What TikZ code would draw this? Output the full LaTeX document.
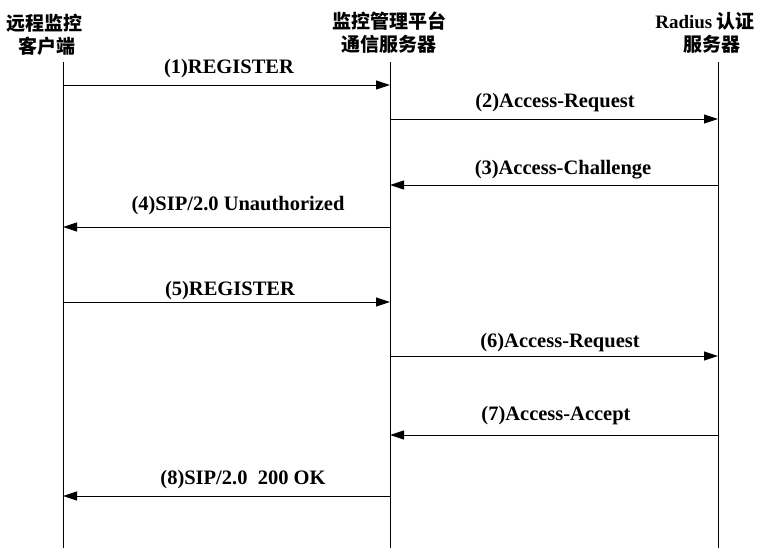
\documentclass[tikz,border=0pt]{standalone}
\usepackage{fontspec}
\setmainfont{Liberation Serif}
\newfontfamily\cjk{Noto Sans CJK SC}
\usetikzlibrary{arrows.meta}
\tikzset{
  lifeline/.style={line width=0.9pt},
  msg/.style={line width=0.8pt,-{Triangle[length=14pt,width=9pt]}},
  lbl/.style={font=\fontsize{20.5}{22}\selectfont\bfseries, inner sep=0pt, anchor=base},
  hdr/.style={font=\fontsize{19}{22}\selectfont\bfseries\cjk, inner sep=0pt, anchor=base, align=center},
}
\begin{document}
\begin{tikzpicture}[x=1pt,y=-1pt]
\useasboundingbox (0,0) rectangle (762,548);
% headers
\node[hdr] (h1a) at (44,31) {远程监控};
\node[hdr] (h1b) at (47,54) {客户端};
\node[hdr] (h2a) at (389,29) {监控管理平台};
\node[hdr] (h2b) at (389,52) {通信服务器};
\node[hdr] (h3a) at (705,29) {{\rmfamily Radius} 认证};
\node[hdr] (h3b) at (712,52) {服务器};
% lifelines
\coordinate (t1) at (63,62); \coordinate (e1) at (63,548);
\coordinate (t2) at (390,62); \coordinate (e2) at (390,548);
\coordinate (t3) at (718,62); \coordinate (e3) at (718,548);
\draw[lifeline] (t1) -- (e1);
\draw[lifeline] (t2) -- (e2);
\draw[lifeline] (t3) -- (e3);
% message endpoints
\foreach \i/\y in {1/85,2/119,3/185,4/227,5/302,6/356,7/435,8/496}{
  \coordinate (a\i) at (63,\y);
  \coordinate (b\i) at (390,\y);
  \coordinate (c\i) at (718,\y);
}
\draw[msg] (a1) -- (b1);
\draw[msg] (b2) -- (c2);
\draw[msg] (c3) -- (b3);
\draw[msg] (b4) -- (a4);
\draw[msg] (a5) -- (b5);
\draw[msg] (b6) -- (c6);
\draw[msg] (c7) -- (b7);
\draw[msg] (b8) -- (a8);
% labels
\node[lbl] (l1) at (229,74) {(1)REGISTER};
\node[lbl] (l2) at (555,108) {(2)Access-Request};
\node[lbl] (l3) at (563,175) {(3)Access-Challenge};
\node[lbl] (l4) at (238,210) {(4)SIP/2.0 Unauthorized};
\node[lbl] (l5) at (230,295) {(5)REGISTER};
\node[lbl] (l6) at (560,347) {(6)Access-Request};
\node[lbl] (l7) at (556,420) {(7)Access-Accept};
\node[lbl] (l8) at (243,484) {(8)SIP/2.0\ \ 200 OK};
\end{tikzpicture}
\end{document}
